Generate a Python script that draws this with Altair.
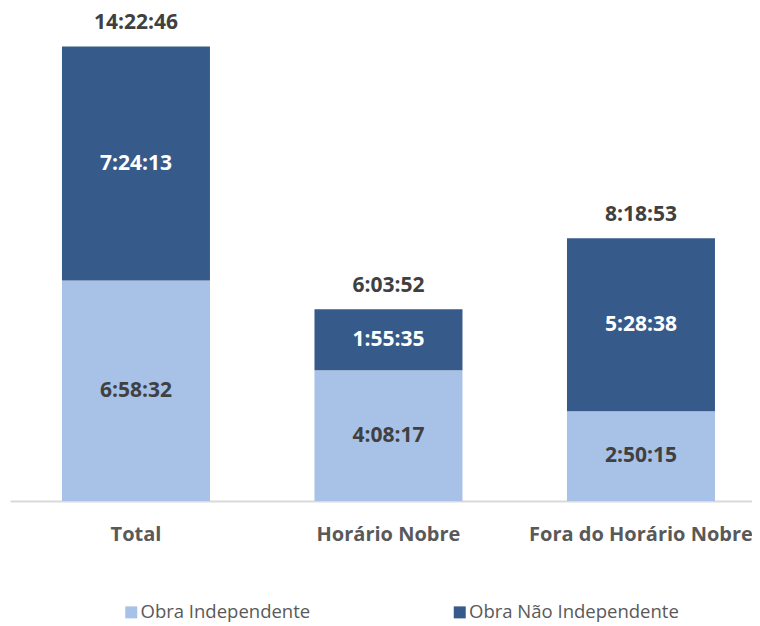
import altair as alt
import pandas as pd

categories = ["Total", "Horário Nobre", "Fora do Horário Nobre"]
series = ["Obra Independente", "Obra Não Independente"]
independente = ["6:58:32", "4:08:17", "2:50:15"]
nao_independente = ["7:24:13", "1:55:35", "5:28:38"]
totais = ["14:22:46", "6:03:52", "8:18:53"]

def secs(s):
    h, m, x = (int(p) for p in s.split(":"))
    return h * 3600 + m * 60 + x

rows = []
for i, c in enumerate(categories):
    rows.append({"cat": c, "serie": series[0], "ord": 0, "sec": secs(independente[i]), "lab": independente[i]})
    rows.append({"cat": c, "serie": series[1], "ord": 1, "sec": secs(nao_independente[i]), "lab": nao_independente[i]})
df = pd.DataFrame(rows)
tot = pd.DataFrame({"cat": categories, "sec": [secs(t) for t in totais], "lab": totais})

FONT = "Open Sans"
DARK = "#365A89"
LIGHT = "#A8C1E6"
TXT = "#404040"

xs = alt.X("cat:N", sort=categories,
           scale=alt.Scale(paddingInner=0.4139, paddingOuter=0.17625, align=0.584),
           axis=alt.Axis(title=None, labelAngle=0, labelFont=FONT, labelFontSize=20,
                         labelFontWeight="bold", labelColor="#595959", labelPadding=23,
                         labelLimit=400, ticks=False, domainColor="#D9D9D9", domainWidth=2,
                         grid=False))
ysc = alt.Scale(domain=[0, 55467], nice=False, zero=True)

base = alt.Chart(df).transform_stack(
    stack="sec", as_=["y0", "y1"], groupby=["cat"], sort=[alt.SortField("ord")]
).transform_calculate(mid="(datum.y0 + datum.y1) / 2")

bars = base.mark_bar().encode(
    x=xs,
    y=alt.Y("y0:Q", scale=ysc, axis=None),
    y2="y1:Q",
    color=alt.Color("serie:N", scale=alt.Scale(domain=series, range=[LIGHT, DARK]),
                    legend=alt.Legend(title=None, orient="none", legendX=112, legendY=589,
                                      direction="horizontal", symbolType="square",
                                      symbolSize=144, symbolStrokeWidth=0,
                                      labelFont=FONT, labelFontSize=18.5, labelColor="#595959",
                                      labelOffset=0, columnPadding=139.5, padding=0,
                                      labelLimit=400)),
)

seglabels = base.mark_text(font=FONT, fontSize=21, fontWeight="bold", baseline="middle").encode(
    x=alt.X("cat:N", sort=categories),
    y=alt.Y("mid:Q", scale=ysc),
    text="lab:N",
    color=alt.Color("serie:N", scale=alt.Scale(domain=series, range=[TXT, "#FFFFFF"]), legend=None),
)

totlabels = alt.Chart(tot).mark_text(font=FONT, fontSize=21, fontWeight="bold",
                                     baseline="middle", dy=-23, color=TXT).encode(
    x=alt.X("cat:N", sort=categories),
    y=alt.Y("sec:Q", scale=ysc),
    text="lab:N",
)

chart = alt.layer(bars, seglabels, totlabels).resolve_scale(color="independent").properties(
    width=742, height=487,
    padding={"left": 2, "top": 6, "right": 0, "bottom": 121},
    autosize=alt.AutoSizeParams(type="none"),
).configure_view(stroke=None)

chart.save("out.html", embed_options={"renderer": "svg", "actions": False})
